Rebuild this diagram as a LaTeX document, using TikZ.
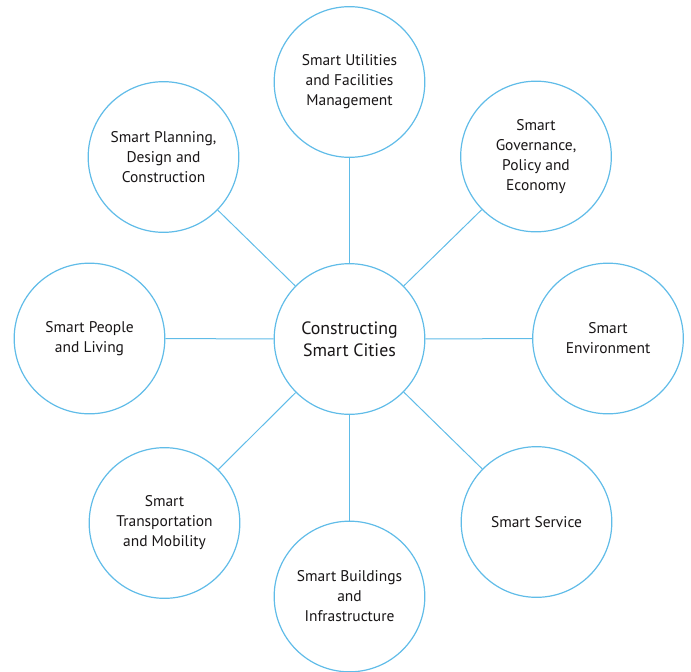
\documentclass[tikz,border=0pt]{standalone}
\usepackage{fontspec}
\setmainfont{PT Sans}
\usepackage{xcolor}
\definecolor{ringblue}{RGB}{96,188,232}
\definecolor{txtgray}{RGB}{25,22,23}

\begin{document}
\begin{tikzpicture}[x=0.75pt,y=0.75pt,yscale=-1,xscale=1,
    topic/.style={circle,draw=ringblue,line width=0.9pt,fill=white,minimum size=113pt,inner sep=0pt,align=center,text=txtgray,font=\fontsize{11.6}{15}\selectfont},
    hub/.style={topic,font=\fontsize{13.4}{16.5}\selectfont},
    spoke/.style={draw=ringblue,line width=0.75pt}]
            %set diagram size 691 x 671
            \useasboundingbox (0,0) rectangle (691,671);
            
            % Central Circle
            \node [hub] (ctr) at (349.5,339) {Constructing\\Smart Cities};
            
            % Outer Circles
            \node [topic] (util) at (349.5,82) {Smart Utilities\\and Facilities\\Management};
            \node [topic] (gov) at (536,156.5) {Smart\\Governance,\\Policy and\\Economy};
            \node [topic] (env) at (608,338.5) {Smart\\Environment};
            \node [topic] (serv) at (536.5,522) {Smart Service};
            \node [topic] (bldg) at (349.5,596.5) {Smart Buildings\\and\\Infrastructure};
            \node [topic] (trans) at (164.5,523) {Smart\\Transportation\\and Mobility};
            \node [topic] (people) at (89.5,338.5) {Smart People\\and Living};
            \node [topic] (plan) at (163.5,157) {Smart Planning,\\Design and\\Construction};
            
            % Spokes
            \foreach \n in {util,gov,env,serv,bldg,trans,people,plan}
                \draw [spoke] (ctr) -- (\n);
            
            \end{tikzpicture}
\end{document}
